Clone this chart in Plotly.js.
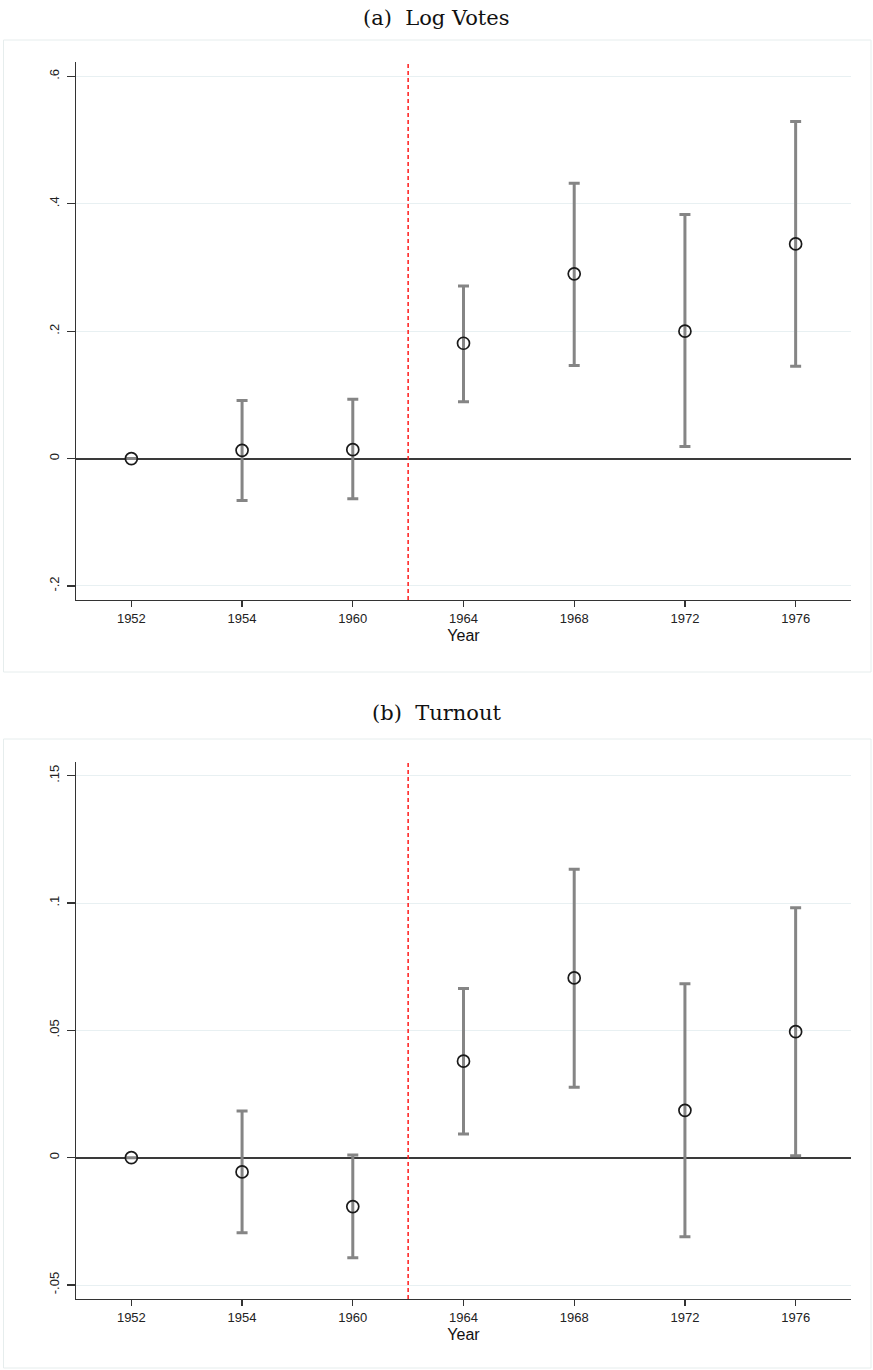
<!DOCTYPE html>
<html>
<head>
<meta charset="utf-8">
<script src="https://cdn.plot.ly/plotly-3.0.1.min.js"></script>
<style>html,body{margin:0;padding:0;background:#fff;}#chart{width:873px;height:1370px;}</style>
</head>
<body>
<div id="chart"></div>
<script>
// ---- Data ----
const years = ['1952', '1954', '1960', '1964', '1968', '1972', '1976'];

// Panel (a) Log Votes
const votesEst = [0, 0.013, 0.014, 0.181, 0.290, 0.200, 0.337];
const votesLo  = [0, -0.066, -0.063, 0.089, 0.146, 0.019, 0.145];
const votesHi  = [0, 0.091, 0.093, 0.271, 0.432, 0.383, 0.529];

// Panel (b) Turnout
const turnEst = [0, -0.0056, -0.0192, 0.0379, 0.0706, 0.0186, 0.0495];
const turnLo  = [0, -0.0295, -0.0393, 0.0093, 0.0277, -0.0311, 0.0008];
const turnHi  = [0, 0.0183, 0.0011, 0.0664, 0.1133, 0.0683, 0.0982];

const votesTickVals = [-0.2, 0, 0.2, 0.4, 0.6];
const votesTickText = ['-.2', '0', '.2', '.4', '.6'];
const turnTickVals = [-0.05, 0, 0.05, 0.1, 0.15];
const turnTickText = ['-.05', '0', '.05', '.1', '.15'];

const titleA = '(a)  Log Votes';
const titleB = '(b)  Turnout';
const xTitle = 'Year';

// ---- Build ----
function trace(est, lo, hi, xa, ya) {
  return {
    type: 'scatter', mode: 'markers',
    x: years, y: est, xaxis: xa, yaxis: ya,
    marker: {symbol: 'circle-open', size: 12, color: '#1a1a1a', line: {width: 1.7, color: '#1a1a1a'}},
    error_y: {
      type: 'data', symmetric: false,
      array: hi.map((h, i) => h - est[i]),
      arrayminus: lo.map((l, i) => est[i] - l),
      color: '#858585', thickness: 3, width: 5.5
    },
    showlegend: false, hoverinfo: 'skip'
  };
}

const W = 873, H = 1370;
const px = v => v / W;
const py = v => 1 - v / H;

const xCommon = {
  type: 'category', range: [-0.5, 6.5], autorange: false,
  showline: true, linecolor: '#333', linewidth: 1.4,
  ticks: 'outside', ticklen: 6, tickwidth: 1.2, tickcolor: '#333',
  showgrid: false, zeroline: false,
  tickfont: {family: 'Liberation Sans, Arial, sans-serif', size: 13, color: '#222'},
  title: {text: xTitle, font: {family: 'Liberation Sans, Arial, sans-serif', size: 16, color: '#111'}, standoff: 4},
  domain: [px(76), px(851)], fixedrange: true
};
const yCommon = {
  showline: true, linecolor: '#333', linewidth: 1.4,
  ticks: 'outside', ticklen: 8, tickwidth: 1.2, tickcolor: '#333',
  showgrid: true, gridcolor: '#e8f0f2', gridwidth: 1,
  zeroline: true, zerolinecolor: '#3a3a3a', zerolinewidth: 2,
  tickangle: -90,
  tickfont: {family: 'Liberation Sans, Arial, sans-serif', size: 13, color: '#222'},
  ticklabelstandoff: 2, fixedrange: true
};

const layout = {
  width: W, height: H,
  margin: {l: 0, r: 0, t: 0, b: 0},
  paper_bgcolor: '#fff', plot_bgcolor: '#fff',
  xaxis: Object.assign({}, xCommon, {anchor: 'y'}),
  yaxis: Object.assign({}, yCommon, {
    anchor: 'x', range: [-0.222, 0.6225], autorange: false,
    tickvals: votesTickVals, ticktext: votesTickText,
    domain: [py(600), py(62)]
  }),
  xaxis2: Object.assign({}, xCommon, {anchor: 'y2'}),
  yaxis2: Object.assign({}, yCommon, {
    anchor: 'x2', range: [-0.0555, 0.1554], autorange: false,
    tickvals: turnTickVals, ticktext: turnTickText,
    domain: [py(1299), py(762)]
  }),
  shapes: [
    {type: 'rect', xref: 'paper', yref: 'paper', x0: px(3.5), x1: px(871), y0: py(672), y1: py(40),
     line: {color: '#e6eded', width: 1}, fillcolor: 'rgba(0,0,0,0)', layer: 'below'},
    {type: 'rect', xref: 'paper', yref: 'paper', x0: px(3.5), x1: px(871), y0: py(1368), y1: py(739),
     line: {color: '#e6eded', width: 1}, fillcolor: 'rgba(0,0,0,0)', layer: 'below'},
    {type: 'line', xref: 'x', yref: 'y domain', x0: 2.5, x1: 2.5, y0: 0, y1: 1,
     line: {color: '#ff1a1a', width: 1.5, dash: '4px,3px'}},
    {type: 'line', xref: 'x2', yref: 'y2 domain', x0: 2.5, x1: 2.5, y0: 0, y1: 1,
     line: {color: '#ff1a1a', width: 1.5, dash: '4px,3px'}}
  ],
  annotations: [
    {text: titleA, xref: 'paper', yref: 'paper', x: 0.5, y: py(18), xanchor: 'center', yanchor: 'middle',
     showarrow: false, font: {family: 'DejaVu Serif, serif', size: 21, color: '#111'}},
    {text: titleB, xref: 'paper', yref: 'paper', x: 0.5, y: py(713), xanchor: 'center', yanchor: 'middle',
     showarrow: false, font: {family: 'DejaVu Serif, serif', size: 21, color: '#111'}}
  ]
};

Plotly.newPlot('chart', [
  trace(votesEst, votesLo, votesHi, 'x', 'y'),
  trace(turnEst, turnLo, turnHi, 'x2', 'y2')
], layout, {staticPlot: true, displayModeBar: false});
</script>
</body>
</html>
